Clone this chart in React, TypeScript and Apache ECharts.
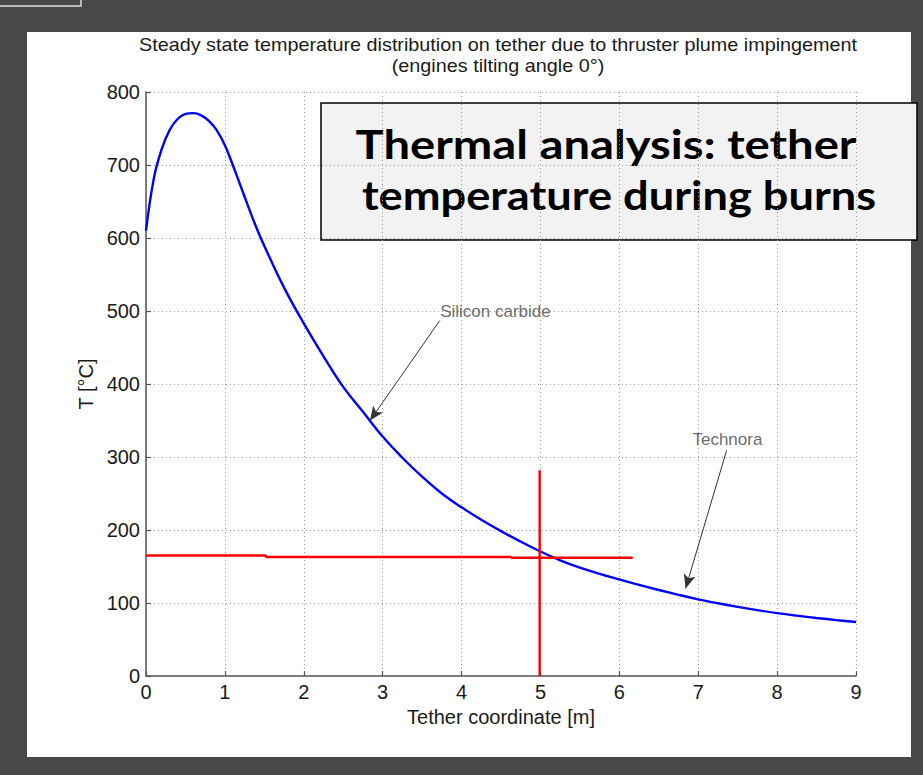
import React, { useEffect, useRef } from 'react';
import * as echarts from 'echarts';

// Steady-state temperature along the tether (blue curve), x in metres, T in °C
const tetherX = [
  0, 0.1, 0.2, 0.3, 0.4, 0.5, 0.6, 0.7, 0.8, 0.9, 1.0, 1.1, 1.2, 1.3, 1.4, 1.5,
  1.75, 2.0, 2.25, 2.5, 2.75, 3.0, 3.25, 3.5, 3.75, 4.0, 4.25, 4.5, 4.75, 5.0,
  5.25, 5.5, 5.75, 6.0, 6.25, 6.5, 6.75, 7.0, 7.25, 7.5, 7.75, 8.0, 8.25, 8.5, 8.75, 9.0,
];
const tempC = [
  610, 682, 722, 748, 763, 770, 771, 768, 760, 747, 727, 700, 671, 642, 614, 589,
  532, 483, 438, 396, 362, 328, 299, 273, 250, 231, 214, 198.5, 184, 170.5,
  158.5, 148.5, 140, 132.3, 124.8, 117.8, 111.2, 105, 99.6, 94.7, 90.2, 86.2, 82.7, 79.5, 76.6, 74,
];

// Technora temperature limit (red horizontal) and the 5 m marker (red vertical)
const limitX = [0, 1.52, 1.52, 4.63, 4.63, 6.17];
const limitT = [165, 165, 163, 163, 162, 162];
const markerX = [4.99, 4.99];
const markerT = [282, 0];

// Material annotations and their arrows
const noteText = ['Silicon carbide', 'Technora'];
const noteX = [4.43, 7.37];
const noteT = [500, 324];
const arrowFromX = [3.725, 7.36];
const arrowFromT = [487, 309];
const arrowToX = [2.84, 6.84];
const arrowToT = [350, 120];

const titleLines = [
  'Steady state temperature distribution on tether due to thruster plume impingement',
  '(engines tilting angle 0°)',
];
const boxLines = ['Thermal analysis: tether', 'temperature during burns'];
const xName = 'Tether coordinate [m]';
const yName = 'T [°C]';

const sans = "'Liberation Sans', Arial, Helvetica, sans-serif";
const ink = '#1a1a1a';

export default function App() {
  const ref = useRef<HTMLDivElement>(null);

  useEffect(() => {
    if (!ref.current) return;
    const chart = echarts.init(ref.current, undefined, { renderer: 'svg' });

    const dotted = { color: '#9a9a9a', width: 1, type: [1, 3] as number[] };
    const axisLine = { show: true, lineStyle: { color: '#555', width: 1.5 } };
    const tick = { show: true, inside: true, length: 5, lineStyle: { color: '#555', width: 1.2 } };

    const headline = (text: string, x: number, y: number, sx: number) => ({
      type: 'text',
      x,
      y,
      scaleX: sx,
      style: {
        text,
        fontFamily: 'Lato, sans-serif',
        fontWeight: 'bold',
        fontSize: 40,
        fill: '#000',
        textAlign: 'center',
        textVerticalAlign: 'middle',
      },
    });

    const titleText = (text: string, y: number) => ({
      type: 'text',
      x: 498,
      y,
      scaleX: 1.1,
      silent: true,
      style: {
        text,
        fontFamily: sans,
        fontSize: 18,
        fill: ink,
        textAlign: 'center',
        textVerticalAlign: 'middle',
      },
    });

    chart.setOption({
      animation: false,
      backgroundColor: '#484848',
      grid: { left: 146, right: 67, top: 92, bottom: 99 },
      xAxis: {
        type: 'value',
        min: 0,
        max: 9,
        interval: 1,
        name: xName,
        nameLocation: 'middle',
        nameGap: 30,
        nameTextStyle: { fontFamily: sans, fontSize: 20, color: ink },
        axisLine,
        axisTick: tick,
        axisLabel: { fontFamily: sans, fontSize: 20, color: ink, margin: 6 },
        splitLine: { show: true, lineStyle: dotted },
      },
      yAxis: {
        type: 'value',
        min: 0,
        max: 800,
        interval: 100,
        name: yName,
        nameLocation: 'middle',
        nameGap: 46,
        nameTextStyle: { fontFamily: sans, fontSize: 20, color: ink },
        axisLine,
        axisTick: tick,
        axisLabel: { fontFamily: sans, fontSize: 20, color: ink, margin: 6 },
        splitLine: { show: true, lineStyle: dotted },
      },
      graphic: [
        {
          type: 'rect',
          z: -10,
          silent: true,
          shape: { x: 27, y: 32, width: 884, height: 725 },
          style: { fill: '#ffffff' },
        },
        {
          type: 'rect',
          z: -10,
          silent: true,
          shape: { x: -2, y: -2, width: 83, height: 8 },
          style: { fill: 'none', stroke: '#dcdcdc', lineWidth: 1.5 },
        },
        titleText(titleLines[0], 45),
        titleText(titleLines[1], 66),
        {
          type: 'group',
          z: 100,
          children: [
            {
              type: 'rect',
              shape: { x: 321, y: 103, width: 596, height: 137 },
              style: { fill: '#f2f2f2', stroke: '#000', lineWidth: 1.5 },
            },
            headline(boxLines[0], 606, 143, 1.18),
            headline(boxLines[1], 619, 195, 1.13),
          ],
        },
      ],
      series: [
        {
          name: 'Silicon carbide',
          type: 'line',
          data: tetherX.map((x, i) => [x, tempC[i]]),
          smooth: 0.4,
          showSymbol: false,
          lineStyle: { color: '#0000ff', width: 2.4 },
          z: 3,
        },
        {
          name: 'limit',
          type: 'line',
          data: limitX.map((x, i) => [x, limitT[i]]),
          showSymbol: false,
          lineStyle: { color: '#ff0000', width: 2.6 },
          z: 4,
        },
        {
          name: 'marker',
          type: 'line',
          data: markerX.map((x, i) => [x, markerT[i]]),
          showSymbol: false,
          lineStyle: { color: '#ff0000', width: 2.4 },
          z: 4,
        },
        {
          name: 'notes',
          type: 'scatter',
          symbolSize: 0,
          data: noteX.map((x, i) => [x, noteT[i], noteText[i]]),
          label: {
            show: true,
            position: 'inside',
            formatter: (p: any) => p.value[2],
            fontFamily: sans,
            fontSize: 17,
            color: '#444',
          },
          markLine: {
            silent: true,
            symbol: ['none', 'arrow'],
            symbolSize: [9, 14],
            label: { show: false },
            lineStyle: { color: '#333', width: 1, type: 'solid' },
            data: arrowFromX.map((x, i) => [
              { coord: [x, arrowFromT[i]] },
              { coord: [arrowToX[i], arrowToT[i]] },
            ]),
          },
          z: 5,
        },
      ],
    });

    return () => chart.dispose();
  }, []);

  return (
    <div
      ref={ref}
      style={{ position: 'absolute', left: 0, top: 0, width: 923, height: 775 }}
    />
  );
}
